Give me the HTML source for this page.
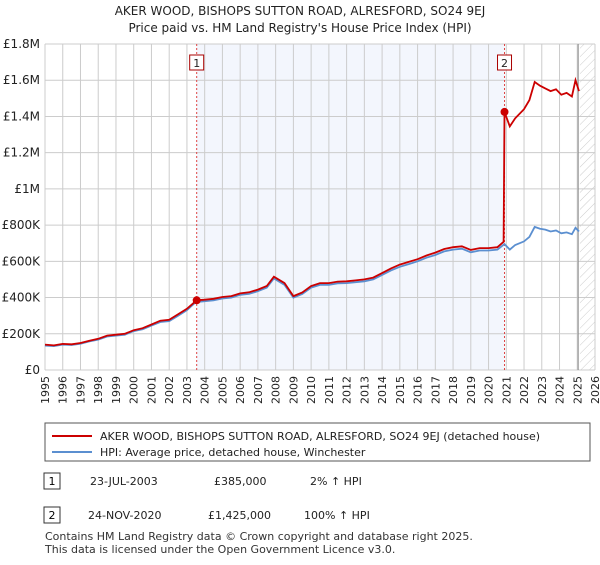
<!DOCTYPE html>
<html><head><meta charset="utf-8"><style>
body{margin:0;background:#fff;font-family:"Liberation Sans","DejaVu Sans",sans-serif;}
svg text{font-family:"DejaVu Sans","Liberation Sans",sans-serif;}
</style></head><body>
<svg id="chart" width="600" height="560" viewBox="0 0 600 560">
<defs><pattern id="hatch" width="6" height="6" patternUnits="userSpaceOnUse" patternTransform="rotate(45)"><line x1="0" y1="0" x2="0" y2="6" stroke="#ccc" stroke-width="1"/></pattern></defs>
<text x="300" y="15" text-anchor="middle" font-size="12" fill="#222">AKER WOOD, BISHOPS SUTTON ROAD, ALRESFORD, SO24 9EJ</text>
<text x="300" y="32" text-anchor="middle" font-size="12" fill="#222">Price paid vs. HM Land Registry's House Price Index (HPI)</text>
<g id="plot"></g>
<rect x="45" y="423" width="545" height="38" fill="#fff" stroke="#555"/>
<line x1="52" y1="436" x2="92" y2="436" stroke="#cc0000" stroke-width="2"/>
<text x="100" y="440" font-size="11" fill="#222">AKER WOOD, BISHOPS SUTTON ROAD, ALRESFORD, SO24 9EJ (detached house)</text>
<line x1="52" y1="452" x2="92" y2="452" stroke="#5b8fd0" stroke-width="2"/>
<text x="100" y="456" font-size="11" fill="#222">HPI: Average price, detached house, Winchester</text>
<g>
<rect x="44" y="473" width="16" height="16" fill="#fff" stroke="#333"/><text x="52" y="485" text-anchor="middle" font-size="11">1</text>
<text x="90" y="485" font-size="11" fill="#222">23-JUL-2003</text><text x="214" y="485" font-size="11" fill="#222">£385,000</text><text x="310" y="485" font-size="11" fill="#222">2% ↑ HPI</text></g>
<g>
<rect x="44" y="507" width="16" height="16" fill="#fff" stroke="#333"/><text x="52" y="519" text-anchor="middle" font-size="11">2</text>
<text x="88" y="519" font-size="11" fill="#222">24-NOV-2020</text><text x="208" y="519" font-size="11" fill="#222">£1,425,000</text><text x="304" y="519" font-size="11" fill="#222">100% ↑ HPI</text></g>
<text x="45" y="540" font-size="11" fill="#333">Contains HM Land Registry data © Crown copyright and database right 2025.</text>
<text x="45" y="553" font-size="11" fill="#333">This data is licensed under the Open Government Licence v3.0.</text>
</svg>
<script>
const yearTicks=[1995,1996,1997,1998,1999,2000,2001,2002,2003,2004,2005,2006,2007,2008,2009,2010,2011,2012,2013,2014,2015,2016,2017,2018,2019,2020,2021,2022,2023,2024,2025,2026];
const valueTicks=[0,200,400,600,800,1000,1200,1400,1600,1800];
const valueLabels=["£0","£200K","£400K","£600K","£800K","£1M","£1.2M","£1.4M","£1.6M","£1.8M"];
const hpiYears=[1995,1995.5,1996,1996.5,1997,1997.5,1998,1998.5,1999,1999.5,2000,2000.5,2001,2001.5,2002,2002.5,2003,2003.5,2004,2004.5,2005,2005.5,2006,2006.5,2007,2007.5,2007.9,2008.5,2009,2009.5,2010,2010.5,2011,2011.5,2012,2012.5,2013,2013.5,2014,2014.5,2015,2015.5,2016,2016.5,2017,2017.5,2018,2018.5,2019,2019.5,2020,2020.5,2020.9,2021.2,2021.5,2022,2022.3,2022.6,2022.9,2023.2,2023.5,2023.8,2024.1,2024.4,2024.7,2024.9,2025.1];
const hpiValues=[135,132,140,138,145,158,168,185,190,195,215,225,245,265,270,300,330,375,380,385,395,400,415,420,435,455,505,470,400,420,455,470,470,478,480,485,490,500,525,550,570,585,600,620,635,655,665,670,650,660,660,665,695,665,690,710,735,790,780,775,765,770,755,760,750,785,765];
const priceYears=[1995,1995.5,1996,1996.5,1997,1997.5,1998,1998.5,1999,1999.5,2000,2000.5,2001,2001.5,2002,2002.5,2003,2003.55,2004,2004.5,2005,2005.5,2006,2006.5,2007,2007.5,2007.9,2008.5,2009,2009.5,2010,2010.5,2011,2011.5,2012,2012.5,2013,2013.5,2014,2014.5,2015,2015.5,2016,2016.5,2017,2017.5,2018,2018.5,2019,2019.5,2020,2020.5,2020.85,2020.9,2021.2,2021.5,2022,2022.3,2022.6,2022.9,2023.2,2023.5,2023.8,2024.1,2024.4,2024.7,2024.9,2025.1];
const priceValues=[140,136,144,142,149,162,172,190,195,200,220,231,251,272,277,308,338,385,388,393,403,408,423,429,444,464,515,480,408,428,464,480,480,488,490,495,500,510,535,561,582,597,612,632,648,668,678,683,663,673,673,678,708,1425,1345,1390,1440,1490,1590,1570,1555,1540,1550,1520,1530,1510,1600,1540];
const saleYears=[2003.55,2020.9];
const saleValues=[385,1425];
const saleLabels=["1","2"];
const NS="http://www.w3.org/2000/svg";
const L=45,R=595,T=44,B=370;
const xs=y=>L+(y-1995)/(2026-1995)*(R-L);
const ys=v=>B-v/1800*(B-T);
const g=document.getElementById('plot');
function mk(t,a){const e=document.createElementNS(NS,t);for(const k in a)e.setAttribute(k,a[k]);g.appendChild(e);return e;}
let e=mk('rect',{x:xs(saleYears[0]),y:T,width:xs(saleYears[1])-xs(saleYears[0]),height:B-T,fill:'#f3f6fd'});


e=mk('rect',{x:xs(2025.15),y:T,width:R-xs(2025.15),height:B-T,fill:'url(#hatch)'});


yearTicks.forEach(y=>{
 const l=mk('line',{x1:xs(y),x2:xs(y),y1:T,y2:B,stroke:'#ccc','stroke-width':1});
 
 
 const t=mk('text',{x:xs(y)+4,y:B+6,'font-size':11,fill:'#222',transform:`rotate(-90 ${xs(y)+4} ${B+6})`,'text-anchor':'end'});
 t.textContent=y;
 
 
});
valueTicks.forEach((v,i)=>{
 const l=mk('line',{x1:L,x2:R,y1:ys(v),y2:ys(v),stroke:'#ccc','stroke-width':1});
 
 
 const t=mk('text',{x:L-5,y:ys(v)+4,'font-size':12,fill:'#222','text-anchor':'end'});
 t.textContent=valueLabels[i];
 
 
});
e=mk('line',{x1:xs(2025.05),x2:xs(2025.05),y1:T,y2:B,stroke:'#888','stroke-width':1});


saleYears.forEach((y,i)=>{
 const l=mk('line',{x1:xs(y),x2:xs(y),y1:T,y2:B,stroke:'#dd4444','stroke-width':1,'stroke-dasharray':'2,2'});
 
 
 const r=mk('rect',{x:xs(y)-7,y:55,width:14,height:15,fill:'#fff',stroke:'#aa0000'});
 
 
 const t=mk('text',{x:xs(y),y:67,'font-size':11,'text-anchor':'middle',fill:'#222'});
 t.textContent=saleLabels[i];
 
 
});
const pts=(xa,va)=>xa.map((x,i)=>xs(x).toFixed(1)+','+ys(va[i]).toFixed(1)).join(' ');
e=mk('polyline',{points:pts(hpiYears,hpiValues),fill:'none',stroke:'#5b8fd0','stroke-width':1.8});


e=mk('polyline',{points:pts(priceYears,priceValues),fill:'none',stroke:'#cc0000','stroke-width':1.8});


saleYears.forEach((y,i)=>{
 const c=mk('circle',{cx:xs(y),cy:ys(saleValues[i]),r:4,fill:'#cc0000'});
 
 
});
</script>
</body></html>
